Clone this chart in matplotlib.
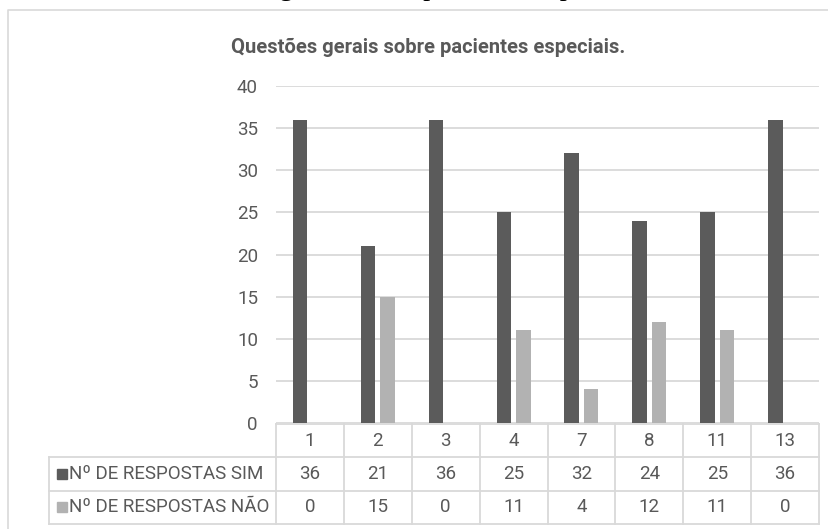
import matplotlib
matplotlib.use("Agg")
import matplotlib.pyplot as plt
from matplotlib.lines import Line2D
from matplotlib.patches import Rectangle

categories = ["1", "2", "3", "4", "7", "8", "11", "13"]
sim = [36, 21, 36, 25, 32, 24, 25, 36]
nao = [0, 15, 0, 11, 4, 12, 11, 0]
series_names = ["Nº DE RESPOSTAS SIM", "Nº DE RESPOSTAS NÃO"]
title = "Questões gerais sobre pacientes especiais."
caption = "Questões gerais sobre pacientes especiais"
yticks = [0, 5, 10, 15, 20, 25, 30, 35, 40]

DARK = "#5b5b5b"
LIGHT = "#b2b2b2"
GRID = "#d9d9d9"
TXT = "#595959"
FONT = ["Roboto", "DejaVu Sans"]

W, H = 829, 529
fig = plt.figure(figsize=(W / 100, H / 100), dpi=100)
fig.patch.set_facecolor("white")

def fx(px):
    return px / W

def fy(py):
    return 1 - py / H

# cut-off caption above the chart frame (only its lowest part is visible, as in the reference)
fig.text(fx(168), fy(-5), caption, family=["Liberation Serif", "DejaVu Serif"],
         fontsize=20.5, color="black", ha="left", va="baseline")

# outer chart frame (top and left)
fig.add_artist(Line2D([fx(8), fx(8), fx(829)], [fy(529), fy(10), fy(10)],
                      color=GRID, lw=1.2, transform=fig.transFigure))

# title
fig.text(fx(428), fy(47), title, family=FONT, fontsize=14.5, fontweight="bold",
         color=TXT, ha="center", va="center")

# main plot area
L, R, T, B = 276, 819, 86, 423
ax = fig.add_axes([fx(L), fy(B), fx(R - L), (B - T) / H])
n = len(categories)
x = list(range(n))
bw = 0.214
off = 0.1436
ax.bar([i - off for i in x], sim, width=bw, color=DARK, zorder=3)
ax.bar([i + off for i in x], nao, width=bw, color=LIGHT, zorder=3)
ax.set_xlim(-0.5, n - 0.5)
ax.set_ylim(0, 40)
ax.set_yticks(yticks)
ax.set_yticklabels([str(v) for v in yticks], family=FONT, fontsize=13.5, color=TXT)
ax.set_xticks([])
ax.tick_params(axis="y", length=0, pad=13)
ax.grid(axis="y", color=GRID, lw=1.3, zorder=0)
for s in ax.spines.values():
    s.set_visible(False)

# data table below
TL, TR, TT, TB = 49, 819, 424, 524
unit = (R - L) / n
xleft = -0.5 - (L - TL) / unit
tab = fig.add_axes([fx(TL), fy(TB), fx(TR - TL), (TB - TT) / H])
tab.set_xlim(xleft, n - 0.5)
tab.set_ylim(3, 0)
tab.axis("off")
lk = dict(color=GRID, lw=1.3, clip_on=False)
tab.plot([-0.5, n - 0.5], [0, 0], **lk)
for yy in (1, 2, 3):
    tab.plot([xleft, n - 0.5], [yy, yy], **lk)
tab.plot([xleft, xleft], [1, 3], **lk)
for i in range(n + 1):
    tab.plot([i - 0.5, i - 0.5], [0, 3], **lk)

tk = dict(family=FONT, fontsize=13.5, color=TXT, ha="center", va="center")
for i, c in enumerate(categories):
    tab.text(i, 0.5, c, **tk)
    tab.text(i, 1.5, str(sim[i]), **tk)
    tab.text(i, 2.5, str(nao[i]), **tk)

sq_w = 10 / unit
sq_h = 10 / ((TB - TT) / 3)
sq_x = xleft + (57 - TL) / unit
txt_x = xleft + (69 - TL) / unit
for r, (name, col) in enumerate(zip(series_names, [DARK, LIGHT])):
    yc = 1.5 + r
    tab.add_patch(Rectangle((sq_x, yc - sq_h / 2), sq_w, sq_h, color=col, clip_on=False))
    tab.text(txt_x, yc, name, family=FONT, fontsize=13.5, color=TXT, ha="left", va="center")

fig.savefig("out.png", dpi=100)
